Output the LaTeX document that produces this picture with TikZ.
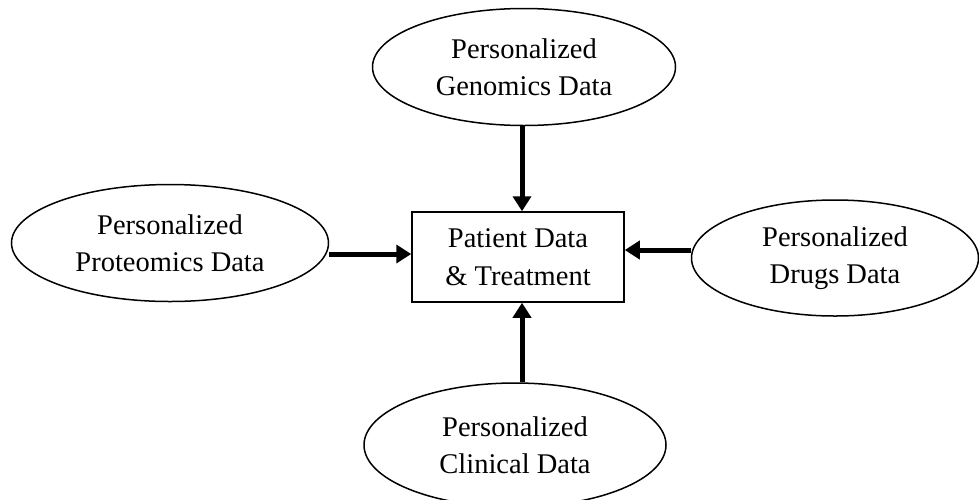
\documentclass[tikz,border=0pt]{standalone}
\usepackage{fontspec}
\setmainfont{Liberation Serif}
\usetikzlibrary{shapes.geometric,arrows.meta}
\begin{document}
\begin{tikzpicture}[x=1pt,y=-1pt,
  oval/.style={draw=black,line width=1.5pt,ellipse,inner sep=0pt,align=center,
    font=\fontsize{28.5}{37.5}\selectfont},
  centerbox/.style={draw=black,line width=1.5pt,rectangle,inner sep=0pt,align=center,
    minimum width=212pt,minimum height=90pt,font=\fontsize{28.5}{37.5}\selectfont},
  arr/.style={line width=5pt,-{Triangle[length=15pt,width=18pt]}}]
\useasboundingbox (0,0) rectangle (979,499);
\node[centerbox] (box) at (518,257) {Patient Data\\\& Treatment};
\node[oval,minimum width=303pt,minimum height=117pt] (top) at (524,67) {Personalized\\Genomics Data};
\node[oval,minimum width=317pt,minimum height=117pt] (left) at (170,243) {Personalized\\Proteomics Data};
\node[oval,minimum width=287pt,minimum height=116pt] (right) at (835,258) {Personalized\\Drugs Data};
\node[oval,minimum width=302pt,minimum height=124pt] (bot) at (515,445) {Personalized\\Clinical Data};
\coordinate (ax) at (522,0);
\coordinate (ly) at (0,254);
\coordinate (ry) at (0,250);
\draw[arr] (top.south -| ax) -- (box.north -| ax);
\draw[arr] (bot.north -| ax) -- (box.south -| ax);
\draw[arr] (left.east |- ly) -- (box.west |- ly);
\draw[arr] (right.west |- ry) -- (box.east |- ry);
\end{tikzpicture}
\end{document}
